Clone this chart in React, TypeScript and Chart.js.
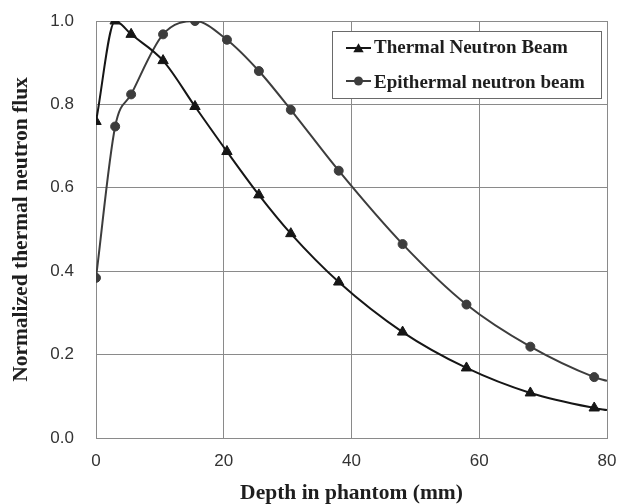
import React, { useEffect, useRef } from "react";
import { Chart, registerables } from "chart.js";

Chart.register(...registerables);

const seriesLabels = ["Thermal Neutron Beam", "Epithermal neutron beam"];
const depthThermal = [0, 3, 5.5, 10.5, 15.5, 20.5, 25.5, 30.5, 38, 48, 58, 68, 78, 80];
const fluxThermal = [0.759, 1.0, 0.968, 0.905, 0.795, 0.687, 0.583, 0.49, 0.374, 0.254, 0.168, 0.108, 0.072, 0.067];
const depthEpi = [0, 3, 5.5, 10.5, 15.5, 20.5, 25.5, 30.5, 38, 48, 58, 68, 78, 80];
const fluxEpi = [0.384, 0.747, 0.824, 0.968, 1.0, 0.955, 0.88, 0.787, 0.641, 0.465, 0.32, 0.219, 0.146, 0.137];
const xTicks = [0, 20, 40, 60, 80];
const yTicks = [0, 0.2, 0.4, 0.6, 0.8, 1.0];
const xTitle = "Depth in phantom (mm)";
const yTitle = "Normalized thermal neutron flux";

const thermalColor = "#161616";
const epiColor = "#3d3d3d";
const serif = "'Liberation Serif', 'Times New Roman', serif";
const sans = "'Liberation Sans', Arial, sans-serif";

function drawMarker(ctx: CanvasRenderingContext2D, style: string, x: number, y: number, r: number, color: string) {
  ctx.beginPath();
  if (style === "triangle") {
    for (let i = 0; i < 3; i++) {
      const a = -Math.PI / 2 + (i * 2 * Math.PI) / 3;
      const px = x + Math.cos(a) * r;
      const py = y + Math.sin(a) * r + r * 0.2;
      if (i === 0) ctx.moveTo(px, py);
      else ctx.lineTo(px, py);
    }
    ctx.closePath();
  } else {
    ctx.arc(x, y, r, 0, Math.PI * 2);
  }
  ctx.fillStyle = color;
  ctx.fill();
}

const legendBoxPlugin = {
  id: "legendBox",
  afterDraw(chart: any) {
    const { ctx, chartArea } = chart;
    const x0 = Math.round(chartArea.right - 275);
    const y0 = Math.round(chartArea.top + 10);
    const w = 269;
    const h = 67;
    ctx.save();
    ctx.fillStyle = "#ffffff";
    ctx.fillRect(x0, y0, w, h);
    ctx.strokeStyle = "#6a6a6a";
    ctx.lineWidth = 1;
    ctx.strokeRect(x0 + 0.5, y0 + 0.5, w, h);
    const lineRows = [y0 + 17, y0 + 50];
    const textRows = [y0 + 17, y0 + 52];
    chart.data.datasets.forEach((ds: any, i: number) => {
      const ry = lineRows[i];
      ctx.strokeStyle = ds.borderColor;
      ctx.lineWidth = 2;
      ctx.beginPath();
      ctx.moveTo(x0 + 14, ry);
      ctx.lineTo(x0 + 39, ry);
      ctx.stroke();
      drawMarker(ctx, ds.pointStyle, x0 + 26.5, ry, i === 0 ? 6 : 4.5, ds.pointBackgroundColor);
      ctx.fillStyle = "#1e1e1e";
      ctx.font = "bold 19px " + serif;
      ctx.textBaseline = "middle";
      ctx.textAlign = "left";
      ctx.fillText(ds.label, x0 + 42, textRows[i]);
    });
    ctx.restore();
  },
};

export default function App() {
  const canvasRef = useRef<HTMLCanvasElement>(null);

  useEffect(() => {
    const canvas = canvasRef.current;
    if (!canvas) return;
    const radius = (r: number) => (c: any) => (c.raw && c.raw.x >= 80 ? 0 : r);
    const chart = new Chart(canvas, {
      type: "line",
      data: {
        datasets: [
          {
            label: seriesLabels[0],
            data: depthThermal.map((x, i) => ({ x, y: fluxThermal[i] })),
            borderColor: thermalColor,
            backgroundColor: thermalColor,
            pointBackgroundColor: thermalColor,
            pointBorderColor: thermalColor,
            pointStyle: "triangle",
            pointRadius: radius(6),
            pointBorderWidth: 1,
            borderWidth: 2,
            cubicInterpolationMode: "monotone",
          },
          {
            label: seriesLabels[1],
            data: depthEpi.map((x, i) => ({ x, y: fluxEpi[i] })),
            borderColor: epiColor,
            backgroundColor: epiColor,
            pointBackgroundColor: epiColor,
            pointBorderColor: epiColor,
            pointStyle: "circle",
            pointRadius: radius(4.5),
            pointBorderWidth: 1,
            borderWidth: 2,
            cubicInterpolationMode: "monotone",
          },
        ],
      },
      options: {
        responsive: false,
        animation: false,
        events: [],
        layout: { padding: { top: 21, right: 12, left: 0, bottom: 0 } },
        plugins: {
          legend: { display: false },
          tooltip: { enabled: false },
        },
        scales: {
          x: {
            type: "linear",
            min: 0,
            max: 80,
            afterBuildTicks: (axis: any) => {
              axis.ticks = xTicks.map((v) => ({ value: v }));
            },
            afterFit: (axis: any) => {
              axis.height = 66;
              axis.paddingLeft = 0;
              axis.paddingRight = 0;
            },
            grid: { color: "#8a8a8a", lineWidth: 1, drawTicks: false },
            border: { color: "#8a8a8a" },
            ticks: {
              padding: 13,
              color: "#333333",
              font: { family: sans, size: 17 },
              maxRotation: 0,
            },
            title: {
              display: true,
              text: xTitle,
              color: "#1e1e1e",
              font: { family: serif, size: 21.5, weight: "bold", lineHeight: 1 },
              padding: { top: 0, bottom: 0 },
            },
          },
          y: {
            type: "linear",
            min: 0,
            max: 1,
            afterBuildTicks: (axis: any) => {
              axis.ticks = yTicks.map((v) => ({ value: v }));
            },
            afterFit: (axis: any) => {
              axis.width = 96;
              axis.paddingTop = 0;
              axis.paddingBottom = 0;
            },
            grid: { color: "#8a8a8a", lineWidth: 1, drawTicks: false },
            border: { color: "#8a8a8a" },
            ticks: {
              padding: 22,
              color: "#333333",
              font: { family: sans, size: 17 },
              callback: (v: any) => Number(v).toFixed(1),
            },
            title: {
              display: true,
              text: yTitle,
              color: "#1e1e1e",
              font: { family: serif, size: 21.5, weight: "bold", lineHeight: 1 },
              padding: { top: 11, bottom: 0 },
            },
          },
        },
      },
      plugins: [legendBoxPlugin],
    } as any);
    return () => chart.destroy();
  }, []);

  return (
    <div style={{ position: "fixed", left: 0, top: 0, width: 619, height: 504, background: "#ffffff" }}>
      <canvas ref={canvasRef} width={619} height={504} />
    </div>
  );
}
